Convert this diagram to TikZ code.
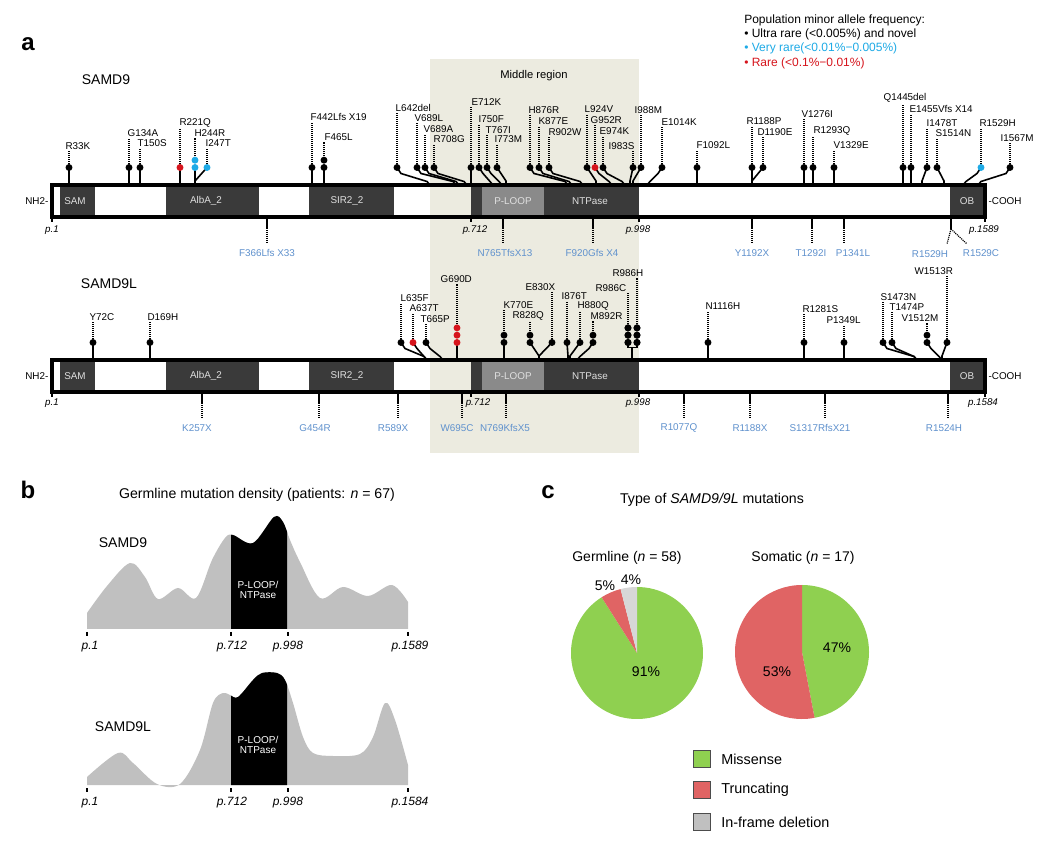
\documentclass[tikz,border=0pt]{standalone}
\usepackage{fontspec}
\setmainfont{Liberation Sans}
\usetikzlibrary{calc}
\definecolor{mr}{RGB}{214,20,28}
\definecolor{mc}{RGB}{30,170,230}
\definecolor{mb}{RGB}{95,145,205}
\definecolor{dom}{RGB}{58,58,58}
\definecolor{ploop}{RGB}{138,138,138}
\definecolor{midbg}{RGB}{236,235,224}
\definecolor{dens}{RGB}{192,192,192}
\definecolor{pgreen}{RGB}{143,208,80}
\definecolor{pred}{RGB}{224,100,100}
\definecolor{pgray}{RGB}{215,215,215}
\newcommand{\fs}[1]{\fontsize{#1}{#1}\selectfont}
% #1 id, #2 bartop, #3 barx (0 = none), #4 dotx, #5 ndots, #6 colour, #7 label x, #8 label y, #9 text
\newcommand{\mutup}[9]{%
  \pgfmathsetmacro{\mdy}{#2-17.5}%
  \coordinate (#1c) at (#4,\mdy);%
  \ifdim #3pt=0pt\relax\else
    \coordinate (#1b) at (#3,#2);%
    \pgfmathsetmacro{\mdd}{abs(#3-#4)}%
    \pgfmathsetmacro{\msg}{sign(#3-#4)}%
    \ifdim\mdd pt<1pt
      \draw[stemln] (#1b) -- (#1c);%
    \else\ifdim\mdd pt<14pt
      \draw[stemln] (#1c) -- (#3,#2-4) -- (#1b);%
    \else
      \draw[stemln] (#1c) -- ++(\msg*4,6) -- ({#3-\msg*3},#2-3.5) -- (#1b);%
    \fi\fi
  \fi
  \foreach \k in {1,...,#5}{\node[mdot,fill=#6] (#1d\k) at (#4,{\mdy-(\k-1)*7.3}) {};}%
  \node[mlab] (#1l) at (#7,#8) {#9};%
  \draw[mdots] (#1d#5.north) -- (#1d#5.north |- #1l.south);%
}
% #1 id, #2 bar bottom, #3 bar x, #4 label centre x, #5 text
\newcommand{\mutdn}[5]{%
  \coordinate (#1b) at (#3,#2);%
  \coordinate (#1m) at (#3,#2+11);%
  \coordinate (#1e) at (#3,#2+26);%
  \node[blab] (#1l) at (#4,#2+36) {#5};%
  \draw[stemln] (#1b) -- (#1m);%
  \draw[mdots] (#1m) -- (#1e);%
}
% #1 top y
\newcommand{\protbar}[1]{%
  \fill[dom] (60,#1) rectangle (95,#1+32);
  \fill[dom] (166,#1) rectangle (259,#1+32);
  \fill[dom] (309,#1) rectangle (394,#1+32);
  \fill[dom] (471,#1) rectangle (482,#1+32);
  \fill[ploop] (482,#1) rectangle (544,#1+32);
  \fill[dom] (544,#1) rectangle (639,#1+32);
  \fill[dom] (950,#1) rectangle (985,#1+32);
  \draw[line width=2.5pt] (52,#1) rectangle (985,#1+32);
  \node[domlab] at (75,#1+16) {SAM};
  \node[domlab] at (206,#1+16) {AlbA\_2};
  \node[domlab] at (347,#1+16) {SIR2\_2};
  \node[domlab] at (513,#1+16) {P-LOOP};
  \node[domlab] at (590,#1+16) {NTPase};
  \node[domlab] at (967,#1+16) {OB};
  \node[mlab,anchor=east] at (50,#1+16) {NH2-};
  \node[mlab,anchor=west] at (987,#1+16) {-COOH};
}
\begin{document}
\begin{tikzpicture}[x=0.75pt,y=-0.75pt,
  mdot/.style={circle,inner sep=0pt,minimum size=5.2pt,draw=none},
  mlab/.style={font=\fs{7.4},inner sep=1pt,anchor=west},
  blab/.style={font=\fs{7.4},inner sep=1pt,text=mb},
  stemln/.style={line width=1.2pt},
  mdots/.style={line width=0.9pt,dash pattern=on 0.8pt off 0.7pt},
  tick/.style={line width=0.8pt},
  plab/.style={font=\fs{7.3}\itshape,inner sep=1pt},
  pblab/.style={font=\fs{9}\itshape,inner sep=1pt},
  domlab/.style={font=\fs{7.4},text=white!88!black},
  panel/.style={font=\fs{18}\bfseries},
  ttl/.style={font=\fs{10.6}},
  sq/.style={draw=black!70,line width=0.8pt,minimum size=13pt,inner sep=0pt}]
\useasboundingbox (0,0) rectangle (1047,841);
\fill[white] (0,0) rectangle (1047,841);
% ---------------- panel a
\node[panel] (pa) at (28,44) {a};
\fill[midbg] (430,59) rectangle (639,453);
\node[font=\fs{8.4}] (midt) at (534,76) {Middle region};
\node[font=\fs{10.5}] (s9) at (106,80) {SAMD9};
\node[font=\fs{10.5}] (s9l) at (109,284) {SAMD9L};
% legend
\node[font=\fs{9},anchor=west,inner sep=0pt] (lg0) at (744,20) {Population minor allele frequency:};
\node[font=\fs{9},anchor=west,inner sep=0pt] (lg1) at (744,34) {• Ultra rare (<0.005\%) and novel};
\node[font=\fs{9},anchor=west,inner sep=0pt,text=mc] (lg2) at (744,48) {• Very rare(<0.01\%−0.005\%)};
\node[font=\fs{9},anchor=west,inner sep=0pt,text=mr] (lg3) at (744,63) {• Rare (<0.1\%−0.01\%)};
% bars
\protbar{185}
\protbar{360}
% ticks
\foreach \x/\t/\lx in {52/p.1/52,471/p.712/475,639/p.998/638,985/p.1589/984}{
  \draw[tick] (\x,217) -- (\x,222);
  \node[plab] at (\lx,230) {\t};}
\foreach \x/\t/\lx in {52/p.1/52,471/p.712/478,639/p.998/638,985/p.1584/983}{
  \draw[tick] (\x,392) -- (\x,397);
  \node[plab] at (\lx,403) {\t};}
% SAMD9 mutations above
\mutup{a1}{185}{69}{69}{1}{black}{64}{146}{R33K}
\mutup{a2}{185}{129}{129}{1}{black}{126}{133}{G134A}
\mutup{a3}{185}{140}{140}{1}{black}{136}{143}{T150S}
\mutup{a4}{185}{180}{180}{1}{mr}{178}{123}{R221Q}
\mutup{a5}{185}{195}{195}{2}{mc}{193}{133}{H244R}
\mutup{a6}{185}{195}{207}{1}{mc}{204}{143}{I247T}
\mutup{a7}{185}{312}{312}{1}{black}{309}{117}{F442Lfs X19}
\mutup{a8}{185}{324}{324}{2}{black}{323}{137}{F465L}
\mutup{a9}{185}{430}{397}{1}{black}{394}{108}{L642del}
\mutup{a10}{185}{456}{417}{1}{black}{413}{118}{V689L}
\mutup{a11}{185}{459}{425}{1}{black}{422}{129}{V689A}
\mutup{a12}{185}{467}{434}{1}{black}{432}{139}{R708G}
\mutup{a13}{185}{471}{471}{1}{black}{470}{102}{E712K}
\mutup{a14}{185}{493}{479}{1}{black}{477}{119}{I750F}
\mutup{a15}{185}{502}{487}{1}{black}{484}{130}{T767I}
\mutup{a16}{185}{506}{497}{1}{black}{493}{139}{I773M}
\mutup{a17}{185}{568}{530}{1}{black}{527}{110}{H876R}
\mutup{a18}{185}{572}{539}{1}{black}{537}{121}{K877E}
\mutup{a19}{185}{583}{549}{1}{black}{547}{132}{R902W}
\mutup{a20}{185}{596}{587}{1}{black}{583}{109}{L924V}
\mutup{a21}{185}{612}{595}{1}{mr}{589}{120}{G952R}
\mutup{a22}{185}{625}{603}{1}{black}{598}{131}{E974K}
\mutup{a23}{185}{630}{633}{1}{black}{607}{146}{I983S}
\mutup{a24}{185}{633}{641}{1}{black}{633}{110}{I988M}
\mutup{a25}{185}{647}{662}{1}{black}{660}{122}{E1014K}
\mutup{a26}{185}{697}{697}{1}{black}{695}{145}{F1092L}
\mutup{a27}{185}{752}{752}{1}{black}{745}{121}{R1188P}
\mutup{a28}{185}{752}{763}{1}{black}{756}{132}{D1190E}
\mutup{a29}{185}{804}{804}{1}{black}{800}{114}{V1276I}
\mutup{a30}{185}{813}{813}{1}{black}{812}{131}{R1293Q}
\mutup{a31}{185}{834}{834}{1}{black}{832}{145}{V1329E}
\mutup{a32}{185}{903}{903}{1}{black}{882}{98}{Q1445del}
\mutup{a33}{185}{911}{911}{1}{black}{908}{109}{E1455Vfs X14}
\mutup{a34}{185}{922}{927}{1}{black}{925}{123}{I1478T}
\mutup{a35}{185}{944}{937}{1}{black}{934}{133}{S1514N}
\mutup{a36}{185}{963}{981}{1}{mc}{978}{123}{R1529H}
\mutup{a37}{185}{978}{1010}{1}{black}{999}{138}{I1567M}
% SAMD9 below
\mutdn{c1}{217}{267}{267}{F366Lfs X33}
\mutdn{c2}{217}{503}{505}{N765TfsX13}
\mutdn{c3}{217}{593}{592}{F920Gfs X4}
\mutdn{c4}{217}{752}{752}{Y1192X}
\mutdn{c5}{217}{812}{811}{T1292I}
\mutdn{c6}{217}{844}{853}{P1341L}
\coordinate (c7b) at (951,217);
\coordinate (c7m) at (951,229);
\coordinate (c7e) at (947,244);
\coordinate (c8e) at (967,244);
\node[blab] (c7l) at (930,254) {R1529H};
\node[blab] (c8l) at (981,253) {R1529C};
\draw[stemln] (c7b) -- (c7m);
\draw[mdots] (c7m) -- (c7e);
\draw[mdots] (c7m) -- (c8e);
% SAMD9L above
\mutup{b1}{360}{93}{93}{1}{black}{88}{317}{Y72C}
\mutup{b2}{360}{150}{150}{1}{black}{146}{317}{D169H}
\mutup{b3}{360}{427}{401}{1}{black}{399}{298}{L635F}
\mutup{b4}{360}{427}{413}{1}{mr}{408}{308}{A637T}
\mutup{b5}{360}{443}{426}{1}{black}{419}{319}{T665P}
\mutup{b6}{360}{457}{457}{3}{mr}{439}{279}{G690D}
\mutup{b7}{360}{504}{504}{2}{black}{502}{305}{K770E}
\mutup{b8}{360}{539}{530}{2}{black}{511}{316}{R828Q}
\mutup{b9}{360}{539}{552}{1}{black}{524}{287}{E830X}
\mutup{b10}{360}{568}{567}{1}{black}{560}{296}{I876T}
\mutup{b11}{360}{570}{580}{1}{black}{576}{306}{H880Q}
\mutup{b12}{360}{577}{593}{2}{black}{589}{316}{M892R}
\mutup{b13}{360}{0}{628}{3}{black}{594}{288}{R986C}
\mutup{b14}{360}{0}{637}{3}{black}{611}{273}{R986H}
\coordinate (b13b) at (632,360);
\coordinate (b13j) at (632,347.5);
\draw[stemln] (b13c) -- (628,347.5) -- (637,347.5) -- (b14c);
\draw[stemln] (b13j) -- (b13b);
\foreach \k in {1,2,3}{\node[mdot,fill=black] at (628,{342.5-(\k-1)*7.3}) {}; \node[mdot,fill=black] at (637,{342.5-(\k-1)*7.3}) {};}
\mutup{b15}{360}{708}{708}{1}{black}{704}{306}{N1116H}
\mutup{b16}{360}{804}{804}{1}{black}{801}{309}{R1281S}
\mutup{b17}{360}{844}{844}{1}{black}{825}{320}{P1349L}
\mutup{b18}{360}{917}{883}{1}{black}{879}{297}{S1473N}
\mutup{b19}{360}{917}{892}{1}{black}{888}{307}{T1474P}
\mutup{b20}{360}{942}{927}{2}{black}{900}{318}{V1512M}
\mutup{b21}{360}{942}{947}{1}{black}{913}{271}{W1513R}
% SAMD9L below
\mutdn{e1}{392}{202}{197}{K257X}
\mutdn{e2}{392}{319}{315}{G454R}
\mutdn{e3}{392}{398}{393}{R589X}
\mutdn{e4}{392}{462}{457}{W695C}
\mutdn{e5}{392}{506}{505}{N769KfsX5}
\mutdn{e6}{392}{684}{679}{R1077Q}
\mutdn{e7}{392}{750}{750}{R1188X}
\mutdn{e8}{392}{825}{820}{S1317RfsX21}
\mutdn{e9}{392}{948}{944}{R1524H}
% ---------------- panel b
\node[panel] (pb) at (28,490) {b};
\node[ttl] (tb) at (257,495) {Germline mutation density (patients: \textit{n} = 67)};
\def\densA{(87,629) -- (87,613) -- plot[smooth,tension=0.55] coordinates {(87,613) (107,586) (130,563) (145,577) (158,599) (178,588) (196,598) (212,560) (225,538) (233,535) (253,543) (274,517) (283,522) (290,540) (300,562) (320,598) (343,587) (368,596) (392,585) (408,602)} -- (408,629) -- cycle}
\def\densB{(87,785) -- (87,777) -- plot[smooth,tension=0.55] coordinates {(87,777) (118,753) (133,763) (157,784) (180,784) (200,750) (213,703) (223,693) (230,695) (238,697) (253,680) (262,673) (277,673) (285,680) (293,703) (303,737) (313,753) (333,756) (360,754) (373,737) (385,703) (395,720) (408,765)} -- (408,785) -- cycle}
\fill[dens] \densA;
\begin{scope}\clip (231,480) rectangle (287,640); \fill[black] \densA; \end{scope}
\fill[dens] \densB;
\begin{scope}\clip (231,650) rectangle (287,790); \fill[black] \densB; \end{scope}
\node[font=\fs{7.5},text=white,align=center,inner sep=0pt] (pl1) at (258,590) {P-LOOP/\\NTPase};
\node[font=\fs{7.5},text=white,align=center,inner sep=0pt] (pl2) at (258,745) {P-LOOP/\\NTPase};
\node[font=\fs{10.5}] (bs9) at (123,543) {SAMD9};
\node[font=\fs{10.5}] (bs9l) at (123,727) {SAMD9L};
\foreach \x/\t/\lx in {87/p.1/90,231/p.712/232,288/p.998/288,408/p.1589/410}{
  \draw[tick] (\x,632) -- (\x,636);
  \node[pblab] at (\lx,647) {\t};}
\foreach \x/\t/\lx in {87/p.1/90,231/p.712/232,288/p.998/288,408/p.1584/410}{
  \draw[tick] (\x,788) -- (\x,792);
  \node[pblab] at (\lx,803) {\t};}
% ---------------- panel c
\node[panel] (pc) at (548,492) {c};
\node[ttl] (tc) at (712,500) {Type of \textit{SAMD9/9L} mutations};
\node[font=\fs{10.5}] (gt) at (627,558) {Germline (\textit{n} = 58)};
\node[font=\fs{10.5}] (st) at (803,558) {Somatic (\textit{n} = 17)};
\begin{scope}[shift={(637,653)},x=0.75pt,y=0.75pt]
  \fill[pgreen] (0,0) -- (122.4:66) arc[start angle=122.4,end angle=450,radius=66] -- cycle;
  \fill[pred] (0,0) -- (104.4:66) arc[start angle=104.4,end angle=122.4,radius=66] -- cycle;
  \fill[pgray] (0,0) -- (90:66) arc[start angle=90,end angle=104.4,radius=66] -- cycle;
\end{scope}
\begin{scope}[shift={(802,652)},x=0.75pt,y=0.75pt]
  \fill[pgreen] (0,0) -- (90:67) arc[start angle=90,end angle=-79.2,radius=67] -- cycle;
  \fill[pred] (0,0) -- (-79.2:67) arc[start angle=-79.2,end angle=-270,radius=67] -- cycle;
\end{scope}
\node[font=\fs{10.5}] (g91) at (646,672) {91\%};
\node[font=\fs{10.5}] (g5) at (605,586) {5\%};
\node[font=\fs{10.5}] (g4) at (631,580) {4\%};
\node[font=\fs{10.5}] (s47) at (837,648) {47\%};
\node[font=\fs{10.5}] (s53) at (777,672) {53\%};
\node[sq,fill=pgreen] (k1) at (702,759) {};
\node[sq,fill=pred] (k2) at (702,790) {};
\node[sq,fill=dens] (k3) at (702,822) {};
\node[font=\fs{10.8},anchor=west,inner sep=0pt] (k1t) at (721,759) {Missense};
\node[font=\fs{10.8},anchor=west,inner sep=0pt] (k2t) at (721,790) {Truncating};
\node[font=\fs{10.8},anchor=west,inner sep=0pt] (k3t) at (721,822) {In-frame deletion};
\end{tikzpicture}
\end{document}
